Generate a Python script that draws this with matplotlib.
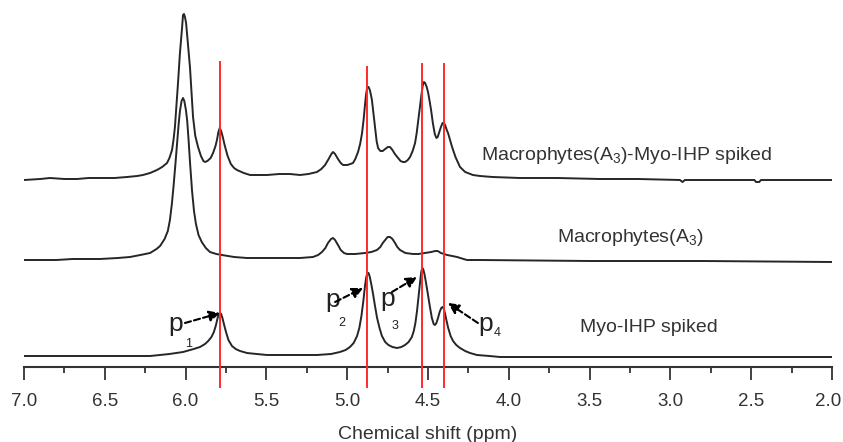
import matplotlib
matplotlib.use("Agg")
import matplotlib.pyplot as plt
from matplotlib.ticker import MultipleLocator
from matplotlib.transforms import ScaledTranslation

plt.rcParams["font.family"] = ["Liberation Sans", "DejaVu Sans"]
plt.rcParams["mathtext.fontset"] = "custom"
plt.rcParams["mathtext.rm"] = "Liberation Sans"

# spectra: chemical shift (ppm) and intensity above each baseline
TOP_PPM = [7.000, 6.900, 6.839, 6.750, 6.672, 6.600, 6.530, 6.440, 6.363, 6.300,
           6.264, 6.220, 6.177, 6.145, 6.115, 6.100, 6.084, 6.075, 6.066, 6.057,
           6.047, 6.035, 6.022, 6.016, 6.010, 6.004, 5.997, 5.990, 5.982, 5.973,
           5.963, 5.954, 5.940, 5.923, 5.905, 5.890, 5.880, 5.865, 5.845, 5.830,
           5.815, 5.806, 5.797, 5.789, 5.780, 5.770, 5.757, 5.740, 5.720, 5.700,
           5.682, 5.640, 5.601, 5.550, 5.496, 5.420, 5.354, 5.292, 5.240, 5.187,
           5.160, 5.137, 5.115, 5.098, 5.088, 5.075, 5.057, 5.040, 5.026, 5.000,
           4.980, 4.964, 4.950, 4.933, 4.920, 4.908, 4.898, 4.890, 4.883, 4.876,
           4.868, 4.860, 4.853, 4.847, 4.838, 4.828, 4.818, 4.809, 4.795, 4.780,
           4.765, 4.748, 4.735, 4.720, 4.705, 4.690, 4.670, 4.655, 4.642, 4.625,
           4.611, 4.595, 4.580, 4.570, 4.560, 4.550, 4.540, 4.532, 4.525, 4.518,
           4.508, 4.500, 4.490, 4.481, 4.470, 4.458, 4.448, 4.440, 4.430, 4.420,
           4.410, 4.401, 4.392, 4.384, 4.376, 4.365, 4.351, 4.330, 4.302, 4.270,
           4.222, 4.178, 4.100, 3.931, 3.700, 3.436, 3.200, 2.941, 2.925, 2.910,
           2.700, 2.480, 2.470, 2.450, 2.440, 2.200, 2.000]
TOP_INT = [-2, -1, 0, -1, -1, 0, 0, 0, 1, 2,
           3, 5, 8, 11, 15, 20, 28, 38, 51, 72,
           95, 125, 150, 163, 164, 161, 155, 142, 128, 111,
           85, 61, 42, 31, 22, 17, 16, 17, 20, 25,
           32, 38, 46, 50, 47, 41, 32, 22, 14, 10,
           8, 5, 3, 3, 3, 4, 4, 3, 4, 6,
           9, 13, 19, 24, 26, 24, 19, 15, 13, 13,
           14, 15, 19, 26, 34, 45, 59, 73, 84, 91,
           91, 88, 83, 78, 65, 50, 37, 30, 27, 27,
           29, 31, 31, 28, 24, 21, 17, 16, 16, 18,
           21, 27, 35, 45, 58, 71, 84, 93, 96, 95,
           91, 86, 77, 68, 55, 44, 40, 41, 46, 51,
           55, 55, 52, 48, 45, 39, 31, 21, 11, 6,
           3, 2, 1, 0, 0, -1, -1, -2, -4, -2,
           -2, -2, -4, -4, -2, -2, -2]

MID_PPM = [7.000, 6.800, 6.700, 6.530, 6.420, 6.344, 6.280, 6.220, 6.180, 6.158,
           6.130, 6.110, 6.097, 6.085, 6.075, 6.063, 6.053, 6.043, 6.035, 6.025,
           6.016, 6.008, 5.998, 5.990, 5.982, 5.972, 5.960, 5.948, 5.936, 5.920,
           5.900, 5.875, 5.849, 5.810, 5.775, 5.700, 5.620, 5.540, 5.400, 5.292,
           5.212, 5.180, 5.156, 5.135, 5.119, 5.100, 5.088, 5.075, 5.057, 5.040,
           5.020, 5.001, 4.950, 4.890, 4.850, 4.816, 4.795, 4.780, 4.765, 4.750,
           4.735, 4.720, 4.704, 4.690, 4.673, 4.640, 4.593, 4.560, 4.519, 4.480,
           4.455, 4.440, 4.420, 4.400, 4.382, 4.350, 4.320, 4.280, 4.259, 4.178,
           3.500, 2.800, 2.000]
MID_INT = [-1, -1, 0, 0, 1, 2, 4, 6, 10, 13,
           20, 28, 39, 55, 72, 95, 115, 135, 148, 158,
           161, 158, 149, 138, 120, 95, 68, 48, 35, 24,
           17, 11, 7, 5, 4, 2, 1, 1, 1, 1,
           2, 4, 7, 11, 16, 20, 21, 19, 14, 9,
           6, 5, 5, 6, 7, 9, 12, 16, 19, 22,
           22, 20, 16, 12, 9, 6, 5, 5, 6, 7,
           8, 8, 6, 5, 4, 3, 2, 0, -1, -1,
           -2, -2, -3]

BOT_PPM = [7.000, 6.530, 6.220, 6.100, 6.016, 5.950, 5.911, 5.880, 5.860, 5.840,
           5.825, 5.812, 5.802, 5.795, 5.787, 5.780, 5.772, 5.763, 5.750, 5.735,
           5.713, 5.690, 5.663, 5.620, 5.560, 5.496, 5.300, 5.187, 5.100, 5.045,
           5.010, 4.983, 4.960, 4.939, 4.925, 4.912, 4.900, 4.890, 4.882, 4.875,
           4.868, 4.860, 4.850, 4.840, 4.828, 4.815, 4.800, 4.785, 4.765, 4.745,
           4.720, 4.692, 4.665, 4.642, 4.620, 4.600, 4.588, 4.578, 4.568, 4.558,
           4.549, 4.542, 4.536, 4.530, 4.522, 4.512, 4.500, 4.488, 4.476, 4.465,
           4.457, 4.448, 4.438, 4.428, 4.418, 4.410, 4.402, 4.394, 4.385, 4.375,
           4.360, 4.345, 4.325, 4.302, 4.270, 4.240, 4.197, 4.120, 4.054, 2.000]
BOT_INT = [0, 0, 0, 2, 4, 7, 9, 12, 15, 19,
           24, 31, 38, 42, 43, 42, 38, 32, 24, 16,
           10, 7, 5, 3, 2, 1, 1, 1, 2, 4,
           6, 9, 13, 20, 28, 40, 55, 70, 79, 83,
           83, 79, 71, 62, 50, 38, 28, 20, 14, 11,
           9, 8, 9, 11, 14, 19, 25, 33, 45, 60,
           74, 84, 88, 87, 82, 73, 61, 49, 38, 32,
           31, 33, 38, 44, 48, 49, 47, 42, 35, 28,
           20, 15, 11, 8, 5, 3, 1, 0, -1, -1]

TRACE_LABELS = ["Macrophytes(A$\\mathregular{_3}$)-Myo-IHP spiked",
                "Macrophytes(A$\\mathregular{_3}$)",
                "Myo-IHP spiked"]

# marked peaks p1..p4
PEAK_PPM = [5.785, 4.878, 4.535, 4.401]
PEAK_NAMES = ["1", "2", "3", "4"]


def main() -> None:
    fig = plt.figure(figsize=(8.43, 4.42), dpi=100)
    ax = fig.add_axes([24 / 843, 75 / 442, 808 / 843, 367 / 442])

    offsets = (189, 108, 11)
    traces = ((TOP_PPM, TOP_INT), (MID_PPM, MID_INT), (BOT_PPM, BOT_INT))
    for (ppm, inten), off in zip(traces, offsets):
        ax.plot(ppm, [v + off for v in inten], color="#262626", lw=1.4)

    # red markers through all three spectra
    red_tops = (305, 300, 303, 303)
    for ppm, top in zip(PEAK_PPM, red_tops):
        ax.plot([ppm, ppm], [-20, top], color="#ff2a2a", lw=1.4, clip_on=False, zorder=3)

    # spectrum names
    label_pos = ((4.172, 212), (3.702, 130), (3.559, 40))
    for text, (x, y) in zip(TRACE_LABELS, label_pos):
        ax.text(x, y, text, fontsize=14, color="#333333", ha="left", va="center")

    # p labels with arrows
    p_pos = ((6.109, 36), (5.137, 60), (4.797, 61), (4.191, 36))
    sub_pos = ((6.004, 20), (5.057, 41), (4.723, 38), (4.092, 31))
    arrows = (((6.004, 44), (5.787, 54)), ((5.075, 65), (4.902, 79)),
              ((4.723, 75), (4.568, 90)), ((4.191, 44), (4.376, 64)))
    for name, pp, sp, (tail, head) in zip(PEAK_NAMES, p_pos, sub_pos, arrows):
        ax.text(pp[0], pp[1], "p", fontsize=19, color="#222222", va="baseline", ha="left")
        ax.text(sp[0], sp[1], name, fontsize=9, color="#222222", va="baseline", ha="left")
        ax.annotate("", xy=head, xytext=tail,
                    arrowprops=dict(arrowstyle="-|>", color="black", lw=1.5,
                                    linestyle=(0, (3, 1.5)), mutation_scale=16,
                                    shrinkA=0, shrinkB=0))

    ax.set_xlim(7.0, 2.0)
    ax.set_ylim(0, 367)
    for side in ("left", "right", "top"):
        ax.spines[side].set_visible(False)
    ax.spines["bottom"].set_linewidth(1.5)
    ax.spines["bottom"].set_color("#333333")
    ax.set_yticks([])
    ax.xaxis.set_major_locator(MultipleLocator(0.5))
    ax.xaxis.set_minor_locator(MultipleLocator(0.25))
    ax.xaxis.set_major_formatter(lambda v, pos: f"{v:.1f}")
    ax.tick_params(axis="x", which="major", direction="out", length=9, width=1.3,
                   color="#333333", labelsize=13.5, labelcolor="#333333", pad=10)
    ax.tick_params(axis="x", which="minor", direction="out", length=4.5, width=1.3,
                   color="#333333")
    ax.set_xlabel("Chemical shift (ppm)", fontsize=14, color="#333333", labelpad=11)

    # the last tick label sits right at the figure edge; nudge it inside
    fig.canvas.draw()
    for lbl in ax.get_xticklabels():
        if lbl.get_text() == "2.0":
            lbl.set_transform(lbl.get_transform()
                              + ScaledTranslation(-0.04, 0, fig.dpi_scale_trans))

    fig.savefig("out.png", dpi=100)
    plt.close(fig)


if __name__ == "__main__":
    main()
